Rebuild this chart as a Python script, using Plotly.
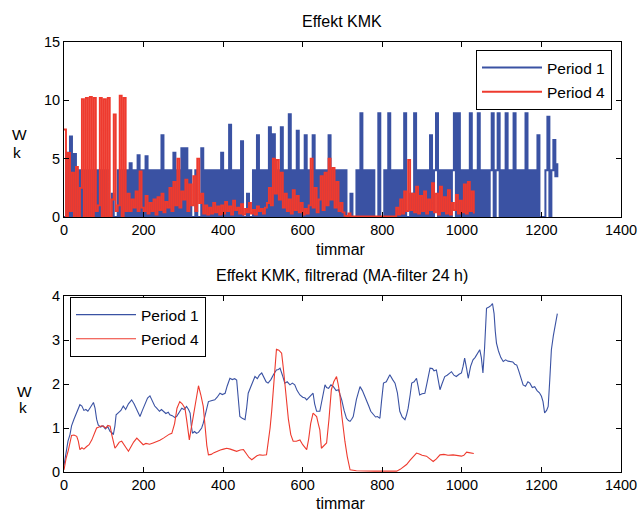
import plotly.graph_objects as go

# ---------------- data ----------------
# Raw hourly power, sampled every 5 h (hours 0..1240 for period 1, 0..1030 for period 4)
hours_p1 = list(range(0, 1245, 5))
hours_p4 = list(range(0, 1035, 5))

raw_p1 = [
    0, 5.5, 0, 6.9, 0, 5.4, 0, 4, 0, 4, 0, 4, 0, 4, 0, 4, 0, 4, 0, 4,
    0, 4, 0, 0, 2, 0, 0, 4, 0, 4, 0, 4, 0, 4.6, 0, 4, 0, 5.3, 0, 4,
    0, 5.2, 0, 4, 0, 4, 0, 4, 0, 7.0, 0, 4, 0, 4, 0, 5.5, 0, 4, 0, 5.9,
    0, 5.9, 0, 4, 0, 0, 4, 0, 0, 5.9, 0, 4, 0, 4, 0, 4, 0, 4, 0, 5.5,
    0, 4, 0, 7.9, 0, 4, 0, 4, 0, 6.5, 0, 0, 2, 0, 0, 4, 0, 7.0, 0, 4,
    0, 4, 0, 7.7, 0, 7.1, 0, 4, 0, 7.7, 0, 4, 0, 8.8, 0, 4, 0, 7.4, 0, 4,
    0, 7.0, 0, 4, 0, 7.0, 0, 4, 0, 4, 0, 4, 0, 7.0, 0, 4, 0, 4, 0, 4,
    0, 4, 0, 0, 2, 0, 0, 4, 0, 8.9, 0, 4, 0, 4, 0, 4, 0, 0, 8.9, 0,
    0, 4, 0, 8.9, 0, 4, 0, 4, 0, 4, 0, 8.9, 0, 0, 2, 0, 8.9, 0, 4, 0,
    4, 0, 4, 0, 7.0, 0, 4, 8.9, 0, 4, 0, 4, 0, 4, 0, 4, 8.9, 0, 8.9, 0,
    4, 0, 4, 0, 8.9, 0, 4, 0, 8.9, 0, 4, 0, 4, 0, 4, 8.9, 0, 4, 8.9, 0,
    4, 0, 8.9, 0, 4, 0, 8.9, 0, 4, 0, 4, 0, 8.9, 0, 4, 0, 4, 0, 7.0, 0,
    0, 0, 4, 8.6, 0, 4, 6.6, 3.5, 4.6,
]

raw_p4 = [
    7.5, 0, 5.5, 0.5, 3.8, 0, 4.3, 0, 2.5, 10.1, 0, 10.2, 0, 10.3, 0, 10.2, 0.5, 1, 10.2, 0,
    10.1, 0, 10.2, 0, 1.5, 8.8, 0.5, 1, 10.4, 0, 10.2, 0.5, 2, 0.5, 1.5, 0.8, 2.2, 0.5, 3.9, 0.8,
    0.5, 1.8, 0.3, 1.2, 0.5, 1.5, 0.2, 1.7, 0.6, 2.0, 0.4, 1.3, 0.8, 2.5, 0.5, 3.0, 1.0, 5.0, 0.8, 2.2,
    1.5, 3.2, 0.5, 2.8, 1.0, 3.5, 0.5, 5.0, 1.2, 2.0, 0.3, 1.0, 0.2, 0.8, 0.3, 1.2, 0.4, 0.9, 0.2, 1.0,
    0.3, 1.3, 0.5, 0.9, 0.2, 1.4, 0.6, 0.8, 0.3, 1.1, 0.2, 0.7, 0.4, 1.2, 0.3, 0.6, 0.2, 0.9, 0.5, 0.7,
    0.3, 0.8, 1.2, 2.5, 1.0, 5.0, 2.0, 4.9, 1.5, 3.8, 0.8, 2.0, 0.5, 1.5, 0.3, 2.3, 0.6, 1.8, 0.4, 1.2,
    0.2, 0.7, 0.3, 1.0, 5.0, 0.8, 2.5, 0.4, 1.5, 3.5, 0.6, 3.8, 1.0, 5.0, 1.5, 4.2, 0.8, 3.0, 0.5, 1.2,
    0.4, 0.1, 0.05, 0.3, 0.05, 0.05, 0.05, 0.05, 0.05, 0.05, 0.05, 0.05, 0.05, 0.05, 0.05, 0.05, 0.05, 0.05, 0.05, 0.05,
    0.05, 0.05, 0.05, 0.05, 0.05, 0.05, 0.05, 0.8, 0.2, 1.5, 0.3, 2.2, 0.5, 4.9, 0.6, 2.0, 0.4, 2.6, 0.3, 1.8,
    0.5, 2.2, 0.3, 1.5, 0.6, 2.9, 0.4, 2.0, 0.2, 2.6, 0.5, 1.7, 0.3, 2.3, 0.2, 1.2, 0.6, 1.9, 0.3, 1.4,
    0.4, 2.8, 0.3, 3.0, 0.5, 2.2, 0.3,
]

# MA-filtered (24 h) series as (hour, value)
filt_p1 = [
    (0,0.15),(5,0.45),(10,0.7),(15,0.85),(19,1.05),(25,1.2),(32,1.35),(40,1.53),(45,1.5),(50,1.4),
    (55,1.42),(60,1.38),(65,1.45),(70,1.52),(74,1.58),(78,1.45),(82,1.2),(86,1.07),(92,1.02),(98,1.05),
    (104,0.98),(110,1.03),(116,0.92),(120,0.9),(124,0.85),(128,1.05),(131,1.3),(137,1.35),(143,1.4),(149,1.5),
    (155,1.42),(162,1.55),(170,1.64),(176,1.55),(182,1.42),(187,1.35),(191,1.26),(197,1.4),(203,1.55),(210,1.68),
    (216,1.73),(222,1.6),(228,1.5),(233,1.45),(240,1.38),(245,1.42),(250,1.38),(256,1.33),(262,1.36),(266,1.3),
    (272,1.28),(278,1.24),(283,1.26),(290,1.38),(296,1.45),(302,1.42),(308,1.49),(313,1.42),(317,1.34),(320,1.05),
    (323,0.88),(328,0.92),(333,0.88),(338,0.9),(342,0.96),(346,1.0),(350,1.11),(355,1.3),(359,1.5),(363,1.6),
    (370,1.62),(379,1.64),(385,1.7),(392,1.79),(398,1.76),(405,1.79),(410,1.95),(414,2.08),(417,2.13),(423,2.1),
    (429,2.12),(434,2.09),(438,1.6),(442,1.26),(448,1.22),(455,1.19),(459,1.45),(463,1.79),(470,1.95),(475,2.05),
    (480,2.17),(486,2.12),(491,2.2),(497,2.25),(503,2.12),(508,2.05),(513,2.02),(520,2.1),(527,2.22),(534,2.32),
    (539,2.33),(543,2.36),(549,2.2),(555,2.02),(561,2.05),(568,1.98),(574,2.02),(580,1.98),(586,1.85),(593,1.75),
    (600,1.7),(606,1.68),(610,1.64),(616,1.7),(622,1.75),(626,1.79),(630,1.55),(635,1.38),(643,1.38),(650,1.7),
    (656,1.98),(660,1.92),(665,1.9),(671,1.98),(677,1.94),(684,1.85),(690,1.87),(694,1.75),(698,1.64),(704,1.4),
    (710,1.22),(715,1.17),(719,1.15),(723,1.2),(727,1.26),(735,1.65),(744,1.94),(750,1.85),(755,1.75),(760,1.64),
    (766,1.5),(771,1.38),(777,1.3),(783,1.25),(788,1.26),(794,1.22),(798,1.6),(803,2.02),(810,2.05),(815,2.15),
    (819,2.21),(826,2.1),(832,2.02),(838,1.8),(844,1.38),(850,1.25),(857,1.19),(861,1.3),(865,1.45),(870,1.75),
    (874,2.02),(880,2.05),(886,2.13),(890,1.95),(894,1.75),(900,1.78),(907,1.79),(913,2.05),(920,2.36),(926,2.35),
    (930,2.3),(936,2.32),(941,2.1),(945,1.87),(950,2.0),(957,2.17),(963,2.2),(969,2.25),(974,2.28),(980,2.2),
    (986,2.17),(993,2.22),(999,2.25),(1003,2.4),(1007,2.59),(1012,2.35),(1016,2.13),(1022,2.4),(1028,2.55),(1033,2.6),
    (1039,2.68),(1045,2.78),(1049,2.6),(1053,2.25),(1057,2.8),(1062,3.72),(1068,3.75),(1073,3.78),(1077,3.83),(1081,3.6),
    (1084,3.2),(1087,2.93),(1092,2.75),(1098,2.6),(1104,2.51),(1110,2.55),(1116,2.52),(1121,2.51),(1128,2.5),(1133,2.45),
    (1138,2.43),(1143,2.3),(1149,2.1),(1154,1.98),(1160,1.95),(1166,2.05),(1171,2.02),(1177,1.92),(1183,1.94),(1189,1.85),
    (1195,1.8),(1200,1.72),(1204,1.6),(1208,1.34),(1213,1.4),(1217,1.49),(1221,2.1),(1225,2.78),(1230,3.1),(1234,3.3),
    (1237,3.45),(1240,3.6),
]

filt_p4 = [
    (0,0.05),(5,0.3),(11,0.5),(15,0.7),(19,0.83),(25,0.84),(32,0.81),(36,0.7),(40,0.51),(45,0.55),
    (50,0.52),(57,0.58),(63,0.62),(70,0.73),(76,0.88),(82,1.0),(88,1.02),(94,1.05),(99,1.04),(105,1.0),
    (110,1.06),(116,1.04),(120,0.85),(124,0.65),(128,0.54),(133,0.6),(139,0.68),(145,0.7),(150,0.62),(156,0.55),
    (162,0.47),(168,0.58),(175,0.68),(183,0.77),(190,0.7),(199,0.62),(206,0.65),(215,0.63),(224,0.66),(232,0.68),
    (241,0.72),(250,0.77),(258,0.82),(265,0.86),(271,0.88),(278,1.1),(284,1.45),(291,1.6),(297,1.55),(304,1.45),
    (308,1.2),(312,0.9),(315,0.73),(319,0.95),(325,1.26),(331,1.6),(338,1.96),(344,1.75),(350,1.49),(355,1.0),
    (359,0.6),(363,0.39),(370,0.4),(377,0.44),(384,0.47),(393,0.5),(401,0.52),(409,0.54),(418,0.52),(426,0.49),
    (434,0.47),(443,0.5),(451,0.51),(458,0.42),(465,0.33),(472,0.28),(478,0.32),(485,0.37),(492,0.39),(500,0.38),
    (509,0.39),(514,0.7),(518,1.0),(522,1.38),(528,2.2),(534,2.79),(540,2.77),(547,2.7),(552,2.3),(556,1.9),
    (559,1.64),(564,1.2),(570,0.85),(576,0.7),(584,0.7),(593,0.73),(600,0.62),(606,0.55),(610,0.51),(615,0.75),
    (620,1.1),(626,1.34),(631,1.3),(635,1.26),(639,1.1),(643,0.96),(647,0.54),(653,0.6),(660,0.66),(666,1.2),
    (672,1.87),(678,2.05),(685,2.17),(689,2.0),(693,1.79),(698,1.3),(702,0.95),(706,0.7),(712,0.35),(719,0.05),
    (735,0.03),(752,0.02),(780,0.02),(810,0.02),(836,0.02),(845,0.06),(853,0.11),(861,0.17),(870,0.27),(878,0.36),
    (886,0.43),(893,0.41),(900,0.38),(911,0.36),(920,0.3),(928,0.24),(936,0.3),(945,0.39),(955,0.4),(965,0.38),
    (978,0.39),(988,0.38),(999,0.36),(1005,0.38),(1012,0.45),(1018,0.44),(1025,0.43),(1030,0.42),
]

series_names = ["Period 1", "Period 4"]
top_title = "Effekt KMK"
bottom_title = "Effekt KMK, filtrerad (MA-filter 24 h)"
x_label = "timmar"
y_label_lines = ["W", "k"]
x_ticks = [0, 200, 400, 600, 800, 1000, 1200, 1400]
y_ticks_top = [0, 5, 10, 15]
y_ticks_bottom = [0, 1, 2, 3, 4]

# ---------------- figure ----------------
BLUE = "#3a52a3"
RED = "#ee3a2e"
FONT = "Liberation Sans, Arial, Helvetica, sans-serif"
W, H = 641, 513

def px_x(p):
    return p / W

def px_y(p):
    return 1 - p / H

fig = go.Figure()

fig.add_trace(go.Scatter(x=hours_p1, y=raw_p1, mode="lines", name=series_names[0],
                         legendgroup="a", line=dict(color=BLUE, width=2.0, shape="hv"),
                         xaxis="x", yaxis="y", legend="legend"))
fig.add_trace(go.Scatter(x=hours_p4, y=raw_p4, mode="lines", name=series_names[1],
                         legendgroup="b", line=dict(color=RED, width=1.9, shape="hv"),
                         xaxis="x", yaxis="y", legend="legend"))

fig.add_trace(go.Scatter(x=[p[0] for p in filt_p1], y=[p[1] for p in filt_p1], mode="lines",
                         name=series_names[0], legendgroup="c", line=dict(color=BLUE, width=1.1),
                         xaxis="x2", yaxis="y2", legend="legend2"))
fig.add_trace(go.Scatter(x=[p[0] for p in filt_p4], y=[p[1] for p in filt_p4], mode="lines",
                         name=series_names[1], legendgroup="d", line=dict(color=RED, width=1.1),
                         xaxis="x2", yaxis="y2", legend="legend2"))

axis_common = dict(
    showline=True, linecolor="black", linewidth=1, mirror="ticks", automargin=False,
    ticks="inside", ticklen=5, tickcolor="black", showgrid=False, zeroline=False,
    tickfont=dict(family=FONT, size=14.5, color="black"),
)

legend_common = dict(
    xanchor="left", yanchor="top", bgcolor="white", bordercolor="black", borderwidth=1,
    font=dict(family=FONT, size=15.5, color="black"), traceorder="grouped",
    tracegroupgap=1, itemwidth=60,
)

xdom = [px_x(64), px_x(621)]
fig.update_layout(
    width=W, height=H,
    margin=dict(l=0, r=0, t=0, b=0, pad=0, autoexpand=False),
    paper_bgcolor="white", plot_bgcolor="white",
    font=dict(family=FONT, size=15, color="black"),
    xaxis=dict(domain=xdom, range=[0, 1400], tickvals=x_ticks, anchor="y", **axis_common),
    yaxis=dict(domain=[px_y(217), px_y(42)], range=[0, 15], tickvals=y_ticks_top, anchor="x", **axis_common),
    xaxis2=dict(domain=xdom, range=[0, 1400], tickvals=x_ticks, anchor="y2", **axis_common),
    yaxis2=dict(domain=[px_y(472), px_y(296)], range=[0, 4], tickvals=y_ticks_bottom, anchor="x2", **axis_common),
    legend=dict(x=px_x(476), y=px_y(50), **legend_common),
    legend2=dict(x=px_x(70), y=px_y(297), **legend_common),
    showlegend=True,
)

ann = []
def add_text(text, xpx, ypx, size=16, xanchor="center"):
    ann.append(dict(text=text, x=px_x(xpx), y=px_y(ypx), xref="paper", yref="paper",
                    xanchor=xanchor, yanchor="middle", showarrow=False, borderpad=0,
                    font=dict(family=FONT, size=size, color="black")))

add_text(top_title, 342, 21)
add_text(bottom_title, 342, 275)
add_text(x_label, 341, 249)
add_text(x_label, 341, 503)
add_text(y_label_lines[0], 11, 134, size=15.5, xanchor="left")
add_text(y_label_lines[1], 12, 152, size=15.5, xanchor="left")
add_text(y_label_lines[0], 16, 391, size=15.5, xanchor="left")
add_text(y_label_lines[1], 18, 407, size=15.5, xanchor="left")
fig.update_layout(annotations=ann)

fig.write_html("out.html", config={"displayModeBar": False},
               post_script="document.body.style.margin='0px';")
